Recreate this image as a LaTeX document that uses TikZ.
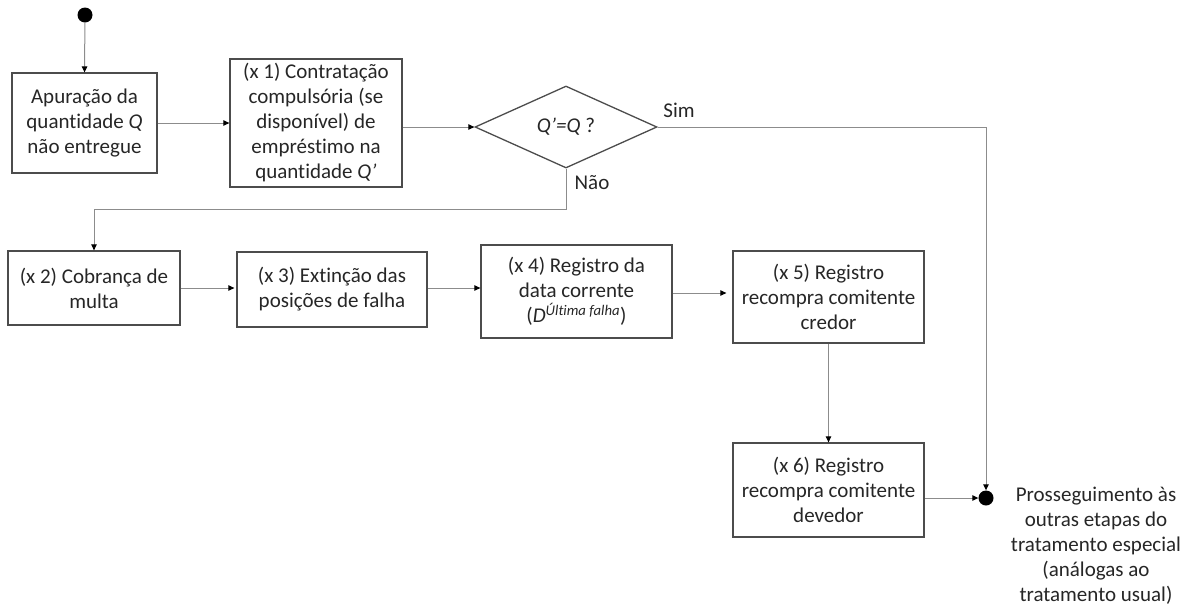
\documentclass[tikz,border=0pt]{standalone}
\usepackage{fontspec}
\setmainfont{Carlito}[Ligatures=CommonOff]
\usetikzlibrary{arrows.meta,shapes.geometric}
\begin{document}
\begin{tikzpicture}[x=1pt,y=-1pt,
  every node/.style={font=\fontsize{21}{25}\selectfont, text=black!85},
  stepbox/.style={draw=black!70, line width=1.3pt, align=center, inner sep=0pt, rectangle},
  conn/.style={draw=black!45, line width=1pt, -{Triangle[length=6pt,width=5.5pt,color=black]}},
  dot/.style={circle, fill=black, inner sep=0pt, minimum size=15pt}]
\useasboundingbox (0,0) rectangle (1195,606);

\node[dot] (start) at (85,15) {};
\node[stepbox, minimum width=145pt, minimum height=100pt] (A) at (84.5,123)
  {Apuração da\\quantidade \textit{Q}\\não entregue};
\node[stepbox, minimum width=172pt, minimum height=128pt] (B) at (316,123)
  {(x 1) Contratação\\compulsória (se\\disponível) de\\empréstimo na\\quantidade \textit{Q’}};
\node[diamond, draw=black!70, line width=1.3pt, inner sep=0pt, aspect=2.2,
  minimum width=182pt, minimum height=82pt] (d) at (566,127) {\textit{Q’=Q} ?};

\node[stepbox, minimum width=172pt, minimum height=74pt] (x2) at (94,288)
  {(x 2) Cobrança de\\multa};
\node[stepbox, minimum width=190pt, minimum height=75pt] (x3) at (332,289.5)
  {(x 3) Extinção das\\posições de falha};
\node[stepbox, minimum width=191pt, minimum height=93pt] (x4) at (576.5,291.5)
  {(x 4) Registro da\\data corrente\\(\textit{D}\textsuperscript{\textit{Última falha}})};
\node[stepbox, minimum width=191pt, minimum height=92pt] (x5) at (828.5,297)
  {(x 5) Registro\\recompra comitente\\credor};
\node[stepbox, minimum width=191pt, minimum height=94pt] (x6) at (828.5,490)
  {(x 6) Registro\\recompra comitente\\devedor};
\node[dot] (end) at (986,498) {};

\node (sim) at (679,110) {Sim};
\node (nao) at (592,183) {Não};
\node[align=center, anchor=north, inner sep=0pt] (cont) at (1096,487)
  {Prosseguimento às\\outras etapas do\\tratamento especial\\(análogas ao\\tratamento usual)};

\draw[conn] (start) -- (A.north);
\draw[conn] (A.east) -- (A.east -| B.west);
\draw[conn] (B.east |- d.west) -- (d.west);
\draw[conn] (d.east) -| (end.north);
\draw[conn] (d.south) -- ++(0,41) -| (x2.north);
\draw[conn, shorten >=2pt] (x2.east) -- (x2.east -| x3.west);
\draw[conn] (x3.east |- x2.east) -- (x2.east -| x4.west);
\draw[conn, shorten >=6pt] ([yshift=-1.5pt]x4.east) -- ([yshift=-1.5pt]x4.east -| x5.west);
\draw[conn] (x5.south) -- (x6.north);
\draw[conn] (x6.east |- end.west) -- (end.west);
\end{tikzpicture}
\end{document}
